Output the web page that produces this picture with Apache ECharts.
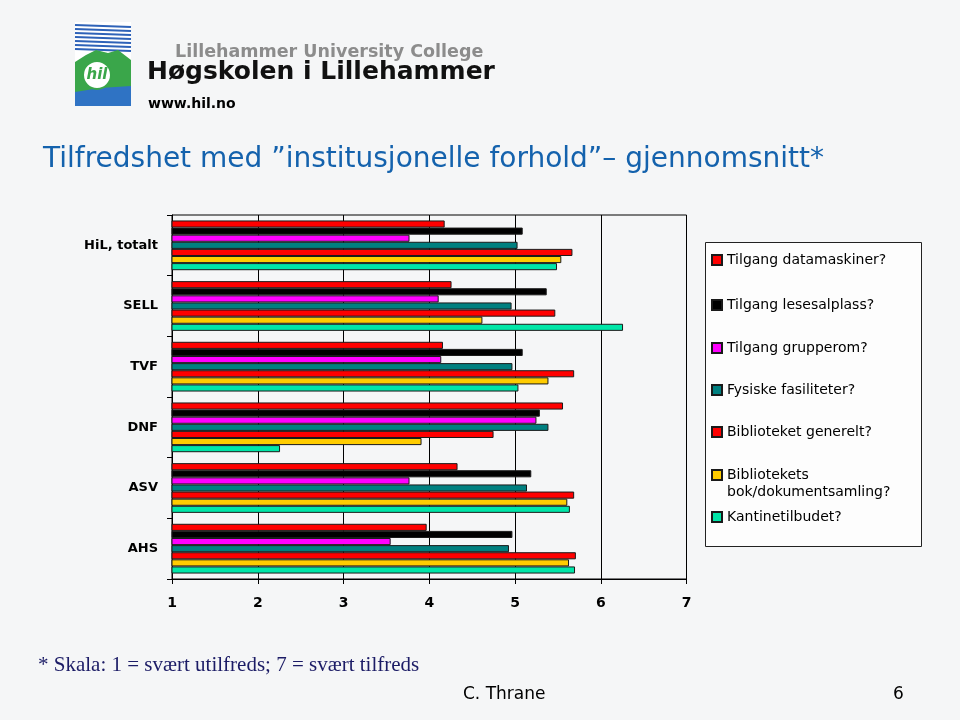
<!DOCTYPE html>
<html>
<head>
<meta charset="utf-8">
<script src="https://cdn.jsdelivr.net/npm/echarts/dist/echarts.min.js"></script>
<style>html,body{margin:0;padding:0;background:#f5f6f7;}#main{width:960px;height:720px;}</style>
</head>
<body>
<div id="main"></div>
<script>
// ---- data ----
var categories = ['HiL, totalt', 'SELL', 'TVF', 'DNF', 'ASV', 'AHS'];
var seriesNames = ['Tilgang datamaskiner?', 'Tilgang lesesalplass?', 'Tilgang grupperom?', 'Fysiske fasiliteter?', 'Biblioteket generelt?', 'Bibliotekets\nbok/dokumentsamling?', 'Kantinetilbudet?'];
var datamaskiner = [4.18, 4.26, 4.16, 5.56, 4.33, 3.97];
var lesesalplass = [5.09, 5.37, 5.09, 5.29, 5.19, 4.97];
var grupperom = [3.77, 4.11, 4.14, 5.25, 3.77, 3.55];
var fysiske = [5.03, 4.96, 4.97, 5.39, 5.14, 4.93];
var biblioteket = [5.67, 5.47, 5.69, 4.75, 5.69, 5.71];
var bokSamling = [5.54, 4.62, 5.39, 3.91, 5.61, 5.63];
var kantine = [5.49, 6.26, 5.04, 2.26, 5.64, 5.70];
var xTickMin = 1, xTickMax = 7, xTickStep = 1;

var values = [datamaskiner, lesesalplass, grupperom, fysiske, biblioteket, bokSamling, kantine];
var colors = ['#ff0000', '#000000', '#ff00ff', '#008080', '#ff0000', '#ffcc00', '#00e6a8'];
var legendTops = [251.5, 296.5, 339.5, 381.5, 423.5, 449.5, 508.5];

var chart = echarts.init(document.getElementById('main'));

var series = seriesNames.map(function (n, i) {
  return {
    name: n, type: 'bar', data: values[i],
    barGap: '0%', barCategoryGap: '18%',
    itemStyle: { color: colors[i], borderColor: '#1a1a1a', borderWidth: 1 },
    emphasis: { disabled: true }
  };
});

var legends = seriesNames.map(function (n, i) {
  var multi = n.indexOf('\n') >= 0;
  return {
    data: [n], orient: 'vertical', left: 711, top: legendTops[i], padding: 0,
    icon: 'rect', itemWidth: 10, itemHeight: 10, itemGap: 0,
    selectedMode: false,
    formatter: multi ? function (name) { return ' \n' + name; } : '{name}',
    textStyle: { fontFamily: 'DejaVu Sans', fontSize: 14, color: '#000', lineHeight: 17 }
  };
});

var option = {
  backgroundColor: '#f5f6f7',
  animation: false,
  color: colors,
  title: {
    text: 'Tilfredshet med \u201Dinstitusjonelle forhold\u201D\u2013 gjennomsnitt*',
    left: 38, top: 141,
    textStyle: { fontFamily: 'DejaVu Sans', fontSize: 28, fontWeight: 'normal', color: '#1462ad' }
  },
  legend: legends,
  grid: { left: 172, right: 273.5, top: 215, bottom: 141, show: true, borderColor: '#000', borderWidth: 1, backgroundColor: 'transparent' },
  xAxis: {
    type: 'value', min: xTickMin, max: xTickMax, interval: xTickStep,
    axisLine: { show: true, lineStyle: { color: '#000', width: 1 } },
    axisTick: { show: true, inside: false, length: 5, lineStyle: { color: '#000' } },
    splitLine: { show: true, lineStyle: { color: '#000', width: 1 } },
    axisLabel: { margin: 17, fontFamily: 'DejaVu Sans', fontSize: 14, fontWeight: 'bold', color: '#000' }
  },
  yAxis: {
    type: 'category', data: categories, inverse: true,
    axisLine: { show: true, lineStyle: { color: '#000', width: 1 } },
    axisTick: { show: true, inside: false, length: 5, lineStyle: { color: '#000' } },
    axisLabel: { margin: 14, fontFamily: 'DejaVu Sans', fontSize: 13, fontWeight: 'bold', color: '#000' }
  },
  graphic: [
    // legend frame
    { type: 'rect', z: -1, shape: { x: 705.5, y: 242.5, width: 216, height: 304 }, style: { fill: 'rgba(255,255,255,0.75)', stroke: '#222', lineWidth: 1 } },
    // logo emblem
    { type: 'rect', shape: { x: 75, y: 22, width: 56, height: 84 }, style: { fill: '#ffffff' } },
    { type: 'group', children: [25, 29, 33, 37, 41, 45, 49].map(function (y) {
        return { type: 'line', shape: { x1: 75, y1: y, x2: 131, y2: y + 2 }, style: { stroke: '#2e62b8', lineWidth: 2 } };
      }) },
    { type: 'polygon', shape: { points: [[75, 62], [86, 55], [96, 50], [108, 53], [118, 50], [131, 60], [131, 90], [75, 96]] }, style: { fill: '#3aa64a' } },
    { type: 'polygon', shape: { points: [[75, 92], [100, 88], [131, 86], [131, 106], [75, 106]] }, style: { fill: '#2f73c4' } },
    { type: 'circle', shape: { cx: 97, cy: 75, r: 14 }, style: { fill: '#ffffff', stroke: '#3aa64a', lineWidth: 2 } },
    { type: 'text', style: { x: 97, y: 75, text: 'hil', align: 'center', verticalAlign: 'middle', fontFamily: 'DejaVu Sans', fontSize: 15, fontWeight: 'bold', fontStyle: 'italic', fill: '#3aa64a' } },
    { type: 'text', style: { x: 175, y: 52, text: 'Lillehammer University College', verticalAlign: 'middle', fontFamily: 'DejaVu Sans', fontSize: 17.5, fontWeight: 'bold', fill: '#8c8c8c' } },
    { type: 'text', style: { x: 147, y: 72, text: 'H\u00f8gskolen i Lillehammer', verticalAlign: 'middle', fontFamily: 'DejaVu Sans', fontSize: 25, fontWeight: 'bold', fill: '#111' } },
    { type: 'text', style: { x: 148, y: 104, text: 'www.hil.no', verticalAlign: 'middle', fontFamily: 'DejaVu Sans', fontSize: 14, fontWeight: 'bold', fill: '#000' } },
    // footnote & footer
    { type: 'text', style: { x: 38, y: 665, text: '* Skala: 1 = sv\u00e6rt utilfreds; 7 = sv\u00e6rt tilfreds', verticalAlign: 'middle', fontFamily: 'Liberation Serif', fontSize: 21, fill: '#1c1c66' } },
    { type: 'text', style: { x: 463, y: 695, text: 'C. Thrane', verticalAlign: 'middle', fontFamily: 'DejaVu Sans', fontSize: 17, fill: '#000' } },
    { type: 'text', style: { x: 893, y: 695, text: '6', verticalAlign: 'middle', fontFamily: 'DejaVu Sans', fontSize: 17, fill: '#000' } }
  ],
  series: series
};
chart.setOption(option);
</script>
</body>
</html>
